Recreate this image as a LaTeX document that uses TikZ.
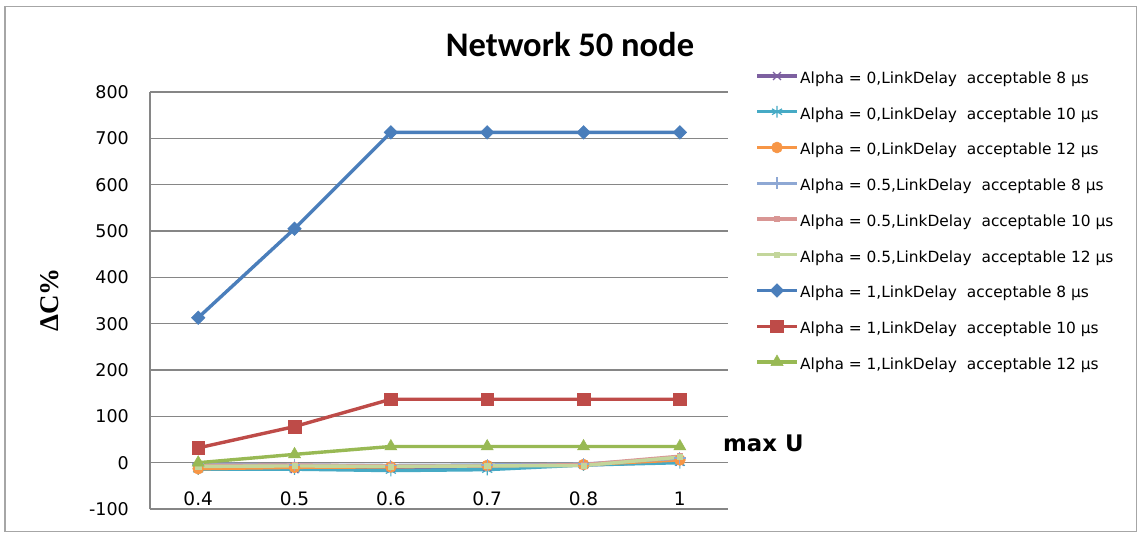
\documentclass[tikz,border=0pt]{standalone}
\usepackage{fontspec}
\usetikzlibrary{plotmarks}
\newfontfamily\labfont{DejaVu Sans}
\newfontfamily\ttlfont{Carlito}
\newfontfamily\serfont{Liberation Serif}

\definecolor{gridgray}{HTML}{868686}
\definecolor{framegray}{HTML}{A6A6A6}
\definecolor{sblue}{HTML}{4A7EBB}
\definecolor{sred}{HTML}{BE4B48}
\definecolor{sgreen}{HTML}{98B954}
\definecolor{spurple}{HTML}{7D60A0}
\definecolor{steal}{HTML}{46AAC5}
\definecolor{sorange}{HTML}{F79646}
\definecolor{slblue}{HTML}{8EA8D4}
\definecolor{spink}{HTML}{D99694}
\definecolor{slgreen}{HTML}{C3D69B}

\tikzset{
  gridline/.style={draw=gridgray, line width=1.2pt},
  serline/.style={line width=3.4pt, line join=round, line cap=round},
  ytick/.style={anchor=east, inner sep=0pt, font=\labfont\fontsize{17.5}{20}\selectfont},
  xtick/.style={anchor=center, inner sep=0pt, font=\labfont\fontsize{18.5}{22}\selectfont},
  legtext/.style={anchor=base west, inner sep=0pt, font=\labfont\fontsize{15.4}{18}\selectfont},
  % marker styles for each series
  mkblue/.style={only marks, mark=square*, mark size=4.8pt, mark options={rotate=45, fill=sblue, draw=sblue, line width=0.5pt}},
  mkred/.style={only marks, mark=square*, mark size=6.3pt, mark options={fill=sred, draw=sred, line width=0.5pt}},
  mkgreen/.style={only marks, mark=triangle*, mark size=7pt, mark options={fill=sgreen, draw=sgreen, line width=0.5pt}},
  mkpurple/.style={only marks, mark=x, mark size=5.5pt, mark options={draw=spurple, line width=1.2pt}},
  mkteal/.style={only marks, mark=asterisk, mark size=5.8pt, mark options={draw=steal, line width=1.2pt}},
  mkorange/.style={only marks, mark=*, mark size=5.5pt, mark options={fill=sorange, draw=sorange, line width=0.5pt}},
  mklblue/.style={only marks, mark=+, mark size=5.8pt, mark options={draw=slblue, line width=1.2pt}},
  mkpink/.style={only marks, mark=square*, mark size=2.6pt, mark options={fill=spink, draw=spink, line width=0.5pt}},
  mklgreen/.style={only marks, mark=square*, mark size=2.6pt, mark options={fill=slgreen, draw=slgreen, line width=0.5pt}},
}

\begin{document}
\begin{tikzpicture}[x=1pt, y=-1pt]
\useasboundingbox (0,0) rectangle (1139,533);
\fill[white] (0,0) rectangle (1139,533);
\draw[framegray, line width=1.2pt] (5,6.5) rectangle (1136.5,531.5);

% title and axis titles
\node[anchor=base, inner sep=0pt, font=\ttlfont\bfseries\fontsize{34.5}{40}\selectfont] (title) at (570,56) {Network 50 node};
\node[anchor=base, rotate=90, inner sep=0pt, font=\serfont\bfseries\fontsize{27}{32}\selectfont] (ytitle) at (58,300) {ΔC\%};
\node[anchor=base west, inner sep=0pt, font=\labfont\bfseries\fontsize{22.8}{26}\selectfont] (xtitle) at (723,451.5) {max U};

% plot area: x = category index, y = value
\begin{scope}[shift={(198.2pt,-462.7pt)}, x=96.33pt, y=0.4633pt]
  \foreach \v in {-100,0,100,200,300,400,500,600,700,800}{
    \draw[gridline] (-0.5,\v) -- (5.5,\v);
    \node[ytick, xshift=-21pt] (yl\v) at (-0.5,\v) {\v};
  }
  \draw[gridline] (-0.5,-100) -- (-0.5,800);
  \foreach \i/\t in {0/0.4,1/0.5,2/0.6,3/0.7,4/0.8,5/1}{
    \node[xtick] (xl\i) at (\i,-78) {\t};
  }

  % series lines
  \draw[serline, spurple] plot coordinates {(0,-12) (1,-14) (2,-12) (3,-10) (4,-5) (5,2)};
  \draw[serline, steal] plot coordinates {(0,-14) (1,-14) (2,-17) (3,-15) (4,-5) (5,0)};
  \draw[serline, sorange] plot coordinates {(0,-13) (1,-10) (2,-9) (3,-6) (4,-4) (5,6)};
  \draw[serline, slblue] plot coordinates {(0,-3) (1,-5) (2,-6) (3,-5) (4,-3) (5,10)};
  \draw[serline, spink] plot coordinates {(0,-6) (1,-5) (2,-7) (3,-7) (4,-4) (5,14)};
  \draw[serline, slgreen] plot coordinates {(0,-8) (1,-7) (2,-8) (3,-7) (4,-6) (5,12)};
  \draw[serline, sblue] plot coordinates {(0,313) (1,505) (2,713) (3,713) (4,713) (5,713)};
  \draw[serline, sred] plot coordinates {(0,32) (1,78) (2,137) (3,137) (4,137) (5,137)};
  \draw[serline, sgreen] plot coordinates {(0,0) (1,18) (2,35) (3,35) (4,35) (5,35)};

  % series markers
  \draw[spurple] plot[mkpurple] coordinates {(0,-12) (1,-14) (2,-12) (3,-10) (4,-5) (5,2)};
  \draw[steal] plot[mkteal] coordinates {(0,-14) (1,-14) (2,-17) (3,-15) (4,-5) (5,0)};
  \draw[sorange] plot[mkorange] coordinates {(0,-13) (1,-10) (2,-9) (3,-6) (4,-4) (5,6)};
  \draw[slblue] plot[mklblue] coordinates {(0,-3) (1,-5) (2,-6) (3,-5) (4,-3) (5,10)};
  \draw[spink] plot[mkpink] coordinates {(0,-6) (1,-5) (2,-7) (3,-7) (4,-4) (5,14)};
  \draw[slgreen] plot[mklgreen] coordinates {(0,-8) (1,-7) (2,-8) (3,-7) (4,-6) (5,12)};
  \draw[sblue] plot[mkblue] coordinates {(0,313) (1,505) (2,713) (3,713) (4,713) (5,713)};
  \draw[sred] plot[mkred] coordinates {(0,32) (1,78) (2,137) (3,137) (4,137) (5,137)};
  \draw[sgreen] plot[mkgreen] coordinates {(0,0) (1,18) (2,35) (3,35) (4,35) (5,35)};
\end{scope}

% legend
\foreach \k/\col/\mk/\txt in {
  0/spurple/mkpurple/{Alpha = 0,LinkDelay\ \ acceptable 8 µs},
  1/steal/mkteal/{Alpha = 0,LinkDelay\ \ acceptable 10 µs},
  2/sorange/mkorange/{Alpha = 0,LinkDelay\ \ acceptable 12 µs},
  3/slblue/mklblue/{Alpha = 0.5,LinkDelay\ \ acceptable 8 µs},
  4/spink/mkpink/{Alpha = 0.5,LinkDelay\ \ acceptable 10 µs},
  5/slgreen/mklgreen/{Alpha = 0.5,LinkDelay\ \ acceptable 12 µs},
  6/sblue/mkblue/{Alpha = 1,LinkDelay\ \ acceptable 8 µs},
  7/sred/mkred/{Alpha = 1,LinkDelay\ \ acceptable 10 µs},
  8/sgreen/mkgreen/{Alpha = 1,LinkDelay\ \ acceptable 12 µs}}{
  \pgfmathsetmacro{\ly}{76+35.75*\k}
  \coordinate (lga\k) at (757,\ly);
  \coordinate (lgb\k) at (797,\ly);
  \coordinate (lgm\k) at (777,\ly);
  \draw[serline, line cap=butt, \col] (lga\k) -- (lgb\k);
  \draw[\col] plot[\mk] coordinates {(lgm\k)};
  \node[legtext] (leg\k) at (800,\ly+7.3) {\txt};
}
\end{tikzpicture}
\end{document}
